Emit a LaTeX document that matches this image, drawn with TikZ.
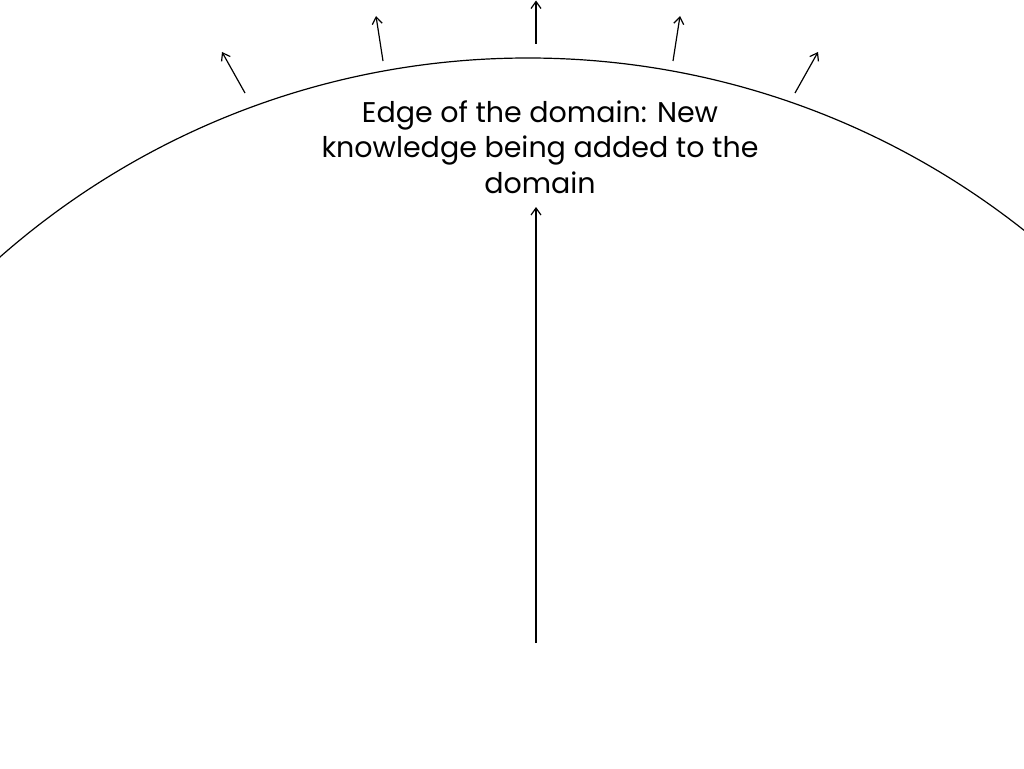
\documentclass[tikz,border=0pt]{standalone}
\usepackage{fontspec}
\setmainfont{Poppins}
\usetikzlibrary{arrows.meta}
\begin{document}
\begin{tikzpicture}[x=1pt,y=-1pt,
  edgeline/.style={line width=1.2pt,black},
  outarrow/.style={line width=1.2pt,black,-{Straight Barb[length=7pt,width=10pt,line width=1.2pt]}},
  captiontext/.style={align=center,font=\fontsize{28.5}{35.5}\selectfont,inner sep=0pt}]
\useasboundingbox (0,0) rectangle (1024,768);
\begin{scope}
\clip (0,0) rectangle (1024,768);
\draw[edgeline] (528,858) circle[radius=800pt];
\end{scope}
\node[captiontext] (txt) at (540,147) {Edge of the domain: New\\knowledge being added to the\\domain};
\coordinate (a1s) at (245,93); \coordinate (a1e) at (222,52);
\coordinate (a2s) at (383,61); \coordinate (a2e) at (376,16);
\coordinate (a3s) at (536,44); \coordinate (a3e) at (536,0.5);
\coordinate (a4s) at (673,61); \coordinate (a4e) at (680,16);
\coordinate (a5s) at (795,93); \coordinate (a5e) at (818,52);
\coordinate (cs) at (536,643); \coordinate (ce) at (536,207);
\draw[outarrow] (a1s) -- (a1e);
\draw[outarrow] (a2s) -- (a2e);
\draw[outarrow] (a3s) -- (a3e);
\draw[outarrow] (a4s) -- (a4e);
\draw[outarrow] (a5s) -- (a5e);
\draw[outarrow] (cs) -- (ce);
\end{tikzpicture}
\end{document}
